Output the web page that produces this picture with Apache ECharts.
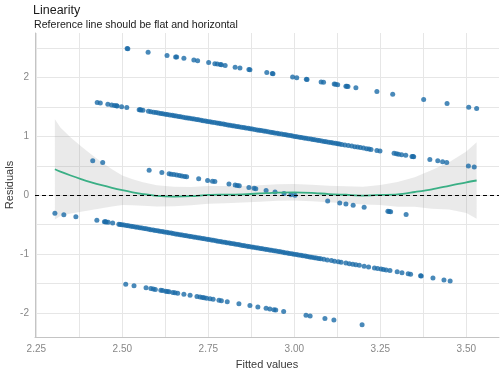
<!DOCTYPE html>
<html>
<head>
<meta charset="utf-8">
<script src="https://cdn.jsdelivr.net/npm/echarts@6/dist/echarts.min.js"></script>
<style>
html,body{margin:0;padding:0;background:#fff;}
#chart{width:504px;height:374px;}
</style>
</head>
<body>
<div id="chart"></div>
<script>
// ---- Data ----
const titleText = 'Linearity';
const subtitleText = 'Reference line should be flat and horizontal';
const xAxisTitle = 'Fitted values';
const yAxisTitle = 'Residuals';

const xTickValues = [2.25, 2.50, 2.75, 3.00, 3.25, 3.50];
const xGridValues = [2.25, 2.375, 2.50, 2.625, 2.75, 2.875, 3.00, 3.125, 3.25, 3.375, 3.50];
const yTickValues = [-2, -1, 0, 1, 2];
const yGridValues = [-2, -1.5, -1, -0.5, 0, 0.5, 1, 1.5, 2, 2.5];

// residual points [fitted, residual], one array per band
const band1 = [[2.514,2.486],[2.516,2.484],[2.575,2.425],[2.630,2.370],[2.655,2.345],[2.658,2.342],[2.679,2.321],[2.708,2.292],[2.719,2.281],[2.751,2.249],[2.769,2.231],[2.776,2.224],[2.785,2.215],[2.788,2.212],[2.799,2.201],[2.828,2.172],[2.842,2.158],[2.868,2.132],[2.871,2.129],[2.920,2.080],[2.936,2.064],[2.938,2.062],[2.995,2.005],[3.007,1.993],[3.035,1.965],[3.037,1.963],[3.078,1.922],[3.085,1.915],[3.116,1.884],[3.120,1.880],[3.126,1.874],[3.150,1.850],[3.153,1.847],[3.156,1.844],[3.179,1.821],[3.240,1.760],[3.286,1.714],[3.376,1.624],[3.444,1.556],[3.507,1.493],[3.530,1.470]];

const band2 = [[2.427,1.573],[2.436,1.564],[2.458,1.542],[2.469,1.531],[2.477,1.523],[2.483,1.517],[2.485,1.515],[2.498,1.502],[2.513,1.487],[2.549,1.451],[2.552,1.448],[2.554,1.446],[2.560,1.440],[2.576,1.424],[2.583,1.417],[2.591,1.409],[2.598,1.402],[2.605,1.395],
[2.612,1.388],[2.618,1.382],[2.625,1.375],[2.631,1.369],[2.638,1.362],[2.645,1.355],[2.651,1.349],[2.657,1.343],[2.664,1.336],[2.670,1.330],[2.677,1.323],[2.684,1.316],[2.690,1.310],[2.696,1.304],[2.703,1.297],[2.709,1.291],[2.716,1.284],[2.722,1.278],[2.729,1.271],[2.735,1.265],[2.742,1.258],[2.748,1.252],[2.755,1.245],[2.761,1.239],[2.768,1.232],[2.775,1.225],[2.781,1.219],[2.787,1.213],[2.794,1.206],[2.800,1.200],[2.807,1.193],[2.813,1.187],[2.820,1.180],[2.826,1.174],[2.833,1.167],[2.839,1.161],[2.846,1.154],[2.853,1.147],[2.859,1.141],[2.866,1.134],[2.872,1.128],[2.878,1.122],[2.885,1.115],[2.892,1.108],[2.898,1.102],[2.904,1.096],[2.911,1.089],[2.917,1.083],[2.924,1.076],[2.931,1.069],[2.937,1.063],[2.943,1.057],[2.950,1.050],[2.956,1.044],[2.963,1.037],[2.970,1.030],[2.976,1.024],[2.982,1.018],[2.989,1.011],[2.995,1.005],[3.002,0.998],[3.008,0.992],[3.015,0.985],[3.021,0.979],[3.028,0.972],[3.034,0.966],[3.041,0.959],[3.048,0.952],[3.054,0.946],[3.060,0.940],[3.067,0.933],[3.073,0.927],[3.080,0.920],[3.087,0.913],[3.093,0.907],[3.100,0.900],[3.107,0.893],[3.113,0.887],[3.120,0.880],[3.126,0.874],[3.131,0.869],
[3.138,0.862],[3.147,0.853],[3.157,0.843],[3.167,0.833],[3.176,0.824],[3.184,0.816],[3.192,0.808],[3.201,0.799],[3.210,0.790],[3.217,0.783],[3.223,0.777],[3.240,0.760],[3.249,0.751],[3.290,0.710],[3.297,0.703],[3.303,0.697],[3.312,0.688],[3.324,0.676],[3.342,0.658],[3.345,0.655],[3.347,0.653],[3.394,0.606],[3.417,0.583],[3.431,0.569],[3.443,0.557],[3.506,0.494],[3.523,0.477]];

const band3 = [[2.414,0.586],[2.443,0.557],[2.578,0.422],[2.615,0.385],[2.636,0.364],[2.642,0.358],[2.650,0.350],[2.658,0.342],[2.666,0.334],[2.673,0.327],[2.681,0.319],[2.687,0.313],[2.722,0.278],[2.748,0.252],[2.762,0.238],[2.769,0.231],[2.810,0.190],[2.828,0.172],[2.834,0.166],[2.840,0.160],[2.868,0.132],[2.883,0.117],[2.888,0.112],[2.918,0.082],[2.944,0.056],[2.970,0.030],[2.990,0.010],[3.002,-0.002],[3.097,-0.097],[3.132,-0.132],[3.150,-0.150],[3.171,-0.171],[3.203,-0.203],[3.272,-0.272],[3.276,-0.276],[3.280,-0.280],[3.325,-0.325]];

const band4 = [[2.304,-0.304],[2.330,-0.330],[2.365,-0.365],[2.426,-0.426],[2.448,-0.448],[2.451,-0.451],[2.453,-0.453],[2.459,-0.459],[2.472,-0.472],
[2.490,-0.490],[2.494,-0.494],[2.499,-0.499],[2.505,-0.505],[2.512,-0.512],[2.518,-0.518],[2.525,-0.525],[2.531,-0.531],[2.538,-0.538],[2.544,-0.544],[2.551,-0.551],[2.557,-0.557],[2.564,-0.564],[2.570,-0.570],[2.577,-0.577],[2.583,-0.583],[2.590,-0.590],[2.596,-0.596],[2.603,-0.603],[2.609,-0.609],[2.616,-0.616],[2.622,-0.622],[2.629,-0.629],[2.635,-0.635],[2.642,-0.642],[2.648,-0.648],[2.655,-0.655],[2.661,-0.661],[2.668,-0.668],[2.674,-0.674],[2.681,-0.681],[2.687,-0.687],[2.694,-0.694],[2.700,-0.700],[2.707,-0.707],[2.713,-0.713],[2.720,-0.720],[2.726,-0.726],[2.733,-0.733],[2.739,-0.739],[2.746,-0.746],[2.752,-0.752],[2.759,-0.759],[2.765,-0.765],[2.772,-0.772],[2.778,-0.778],[2.785,-0.785],[2.791,-0.791],[2.798,-0.798],[2.804,-0.804],[2.811,-0.811],[2.817,-0.817],[2.824,-0.824],[2.830,-0.830],[2.837,-0.837],[2.843,-0.843],[2.850,-0.850],[2.856,-0.856],[2.863,-0.863],[2.869,-0.869],[2.876,-0.876],[2.882,-0.882],[2.889,-0.889],[2.895,-0.895],[2.902,-0.902],[2.908,-0.908],[2.915,-0.915],[2.921,-0.921],[2.928,-0.928],[2.934,-0.934],[2.941,-0.941],[2.947,-0.947],[2.954,-0.954],[2.960,-0.960],[2.967,-0.967],[2.973,-0.973],[2.980,-0.980],[2.986,-0.986],[2.993,-0.993],[2.999,-0.999],[3.006,-1.006],[3.012,-1.012],[3.019,-1.019],[3.025,-1.025],[3.032,-1.032],[3.038,-1.038],[3.045,-1.045],[3.051,-1.051],[3.058,-1.058],[3.064,-1.064],[3.071,-1.071],[3.077,-1.077],[3.086,-1.086],
[3.096,-1.096],[3.108,-1.108],[3.117,-1.117],[3.128,-1.128],[3.136,-1.136],[3.150,-1.150],[3.160,-1.160],[3.170,-1.170],[3.179,-1.179],[3.189,-1.189],[3.203,-1.203],[3.216,-1.216],[3.233,-1.233],[3.242,-1.242],[3.252,-1.252],[3.259,-1.259],[3.267,-1.267],[3.278,-1.278],[3.299,-1.299],[3.313,-1.313],[3.331,-1.331],[3.338,-1.338],[3.367,-1.367],[3.369,-1.369],[3.403,-1.403],[3.435,-1.435],[3.453,-1.453]];

const band5 = [[2.510,-1.510],[2.534,-1.534],[2.569,-1.569],[2.583,-1.583],[2.590,-1.590],[2.596,-1.596],[2.612,-1.612],[2.617,-1.617],[2.626,-1.626],[2.631,-1.631],[2.636,-1.636],[2.647,-1.647],[2.653,-1.653],[2.661,-1.661],[2.679,-1.679],[2.697,-1.697],[2.717,-1.717],[2.726,-1.726],[2.733,-1.733],[2.738,-1.738],[2.745,-1.745],[2.755,-1.755],[2.764,-1.764],[2.781,-1.781],[2.788,-1.788],[2.805,-1.805],[2.839,-1.839],[2.871,-1.871],[2.894,-1.894],[2.918,-1.918],[2.929,-1.929],[2.941,-1.941],[2.946,-1.946],[2.969,-1.969],[3.034,-2.034],[3.046,-2.046],[3.089,-2.089],[3.115,-2.115],[3.197,-2.197]];

// loess smooth and its confidence band
const smoothX     = [2.304, 2.32, 2.35, 2.38, 2.41, 2.44, 2.47, 2.50, 2.53, 2.56, 2.60, 2.65, 2.70, 2.75, 2.80, 2.85, 2.90, 2.95, 3.00, 3.05, 3.10, 3.15, 3.20, 3.25, 3.30, 3.35, 3.40, 3.45, 3.50, 3.53];
const smoothY     = [0.44, 0.40, 0.335, 0.275, 0.22, 0.17, 0.125, 0.085, 0.05, 0.02, -0.01, -0.022, -0.015, 0.005, 0.01, 0.015, 0.03, 0.045, 0.05, 0.04, 0.02, 0.008, -0.005, 0.005, 0.015, 0.055, 0.10, 0.16, 0.22, 0.25];
const smoothUpper = [1.29, 1.15, 0.98, 0.83, 0.69, 0.56, 0.44, 0.335, 0.27, 0.22, 0.17, 0.143, 0.14, 0.155, 0.155, 0.155, 0.17, 0.185, 0.19, 0.18, 0.16, 0.153, 0.145, 0.175, 0.225, 0.305, 0.43, 0.56, 0.74, 0.90];
const smoothLower = [-0.41, -0.35, -0.31, -0.28, -0.25, -0.22, -0.19, -0.165, -0.17, -0.18, -0.19, -0.187, -0.17, -0.145, -0.135, -0.125, -0.11, -0.095, -0.09, -0.10, -0.12, -0.137, -0.155, -0.165, -0.195, -0.195, -0.23, -0.24, -0.30, -0.40];

// ---- Chart ----
const FONT = '"Liberation Sans", Arial, sans-serif';
const chart = echarts.init(document.getElementById('chart'), null, {renderer: 'canvas'});
const pointStyle = {color: '#1b6ca8', opacity: 0.8};
const pointSeries = [band1, band2, band3, band4, band5].map(d => ({
  type: 'scatter', data: d, symbolSize: 5, itemStyle: pointStyle, z: 3, silent: true
}));

const option = {
  animation: false,
  backgroundColor: '#fff',
  textStyle: {fontFamily: FONT},
  title: [
    {text: titleText, left: 33, top: 4, padding: 0,
     textStyle: {fontFamily: FONT, fontSize: 12.5, fontWeight: 'normal', color: '#1a1a1a'}},
    {text: subtitleText, left: 34, top: 19.5, padding: 0,
     textStyle: {fontFamily: FONT, fontSize: 10.6, fontWeight: 'normal', color: '#1a1a1a'}}
  ],
  graphic: [{
    type: 'text', x: 10, y: 185, rotation: Math.PI / 2, silent: true,
    style: {text: yAxisTitle, fill: '#3a3a3a', font: '11px ' + FONT, align: 'center', verticalAlign: 'middle'}
  }],
  grid: {left: 35, right: 5, top: 33, bottom: 37, containLabel: false, outerBoundsMode: 'none'},
  xAxis: {
    type: 'value', min: 2.2462, max: 3.595,
    name: xAxisTitle, nameLocation: 'middle', nameGap: 22,
    nameTextStyle: {fontFamily: FONT, fontSize: 11, color: '#3a3a3a'},
    axisLine: {show: true, onZero: false, lineStyle: {color: '#c4c4c4', width: 1}},
    axisTick: {show: false, customValues: xGridValues},
    axisLabel: {customValues: xTickValues, formatter: v => v.toFixed(2), color: '#878787', fontSize: 10, margin: 7, fontFamily: FONT},
    splitLine: {show: true, lineStyle: {color: '#e6e6e6', width: 1}}
  },
  yAxis: {
    type: 'value', min: -2.4034, max: 2.7508,
    axisLine: {show: true, onZero: false, lineStyle: {color: '#c4c4c4', width: 1}},
    axisTick: {show: false, customValues: yGridValues},
    axisLabel: {customValues: yTickValues, formatter: v => String(v), color: '#878787', fontSize: 10, margin: 6, fontFamily: FONT},
    splitLine: {show: true, lineStyle: {color: '#e6e6e6', width: 1}}
  },
  series: [
    {
      type: 'custom', silent: true, z: 1,
      data: smoothX.map((x, i) => [x, smoothUpper[i], smoothLower[i]]),
      encode: {x: 0, y: [1, 2]},
      renderItem: function (params, api) {
        if (params.dataIndex !== 0) return null;
        const pts = [];
        for (let i = 0; i < smoothX.length; i++) pts.push(api.coord([smoothX[i], smoothUpper[i]]));
        for (let i = smoothX.length - 1; i >= 0; i--) pts.push(api.coord([smoothX[i], smoothLower[i]]));
        return {type: 'polygon', shape: {points: pts}, style: {fill: 'rgba(150,150,150,0.2)'}};
      }
    },
    ...pointSeries,
    {
      type: 'line', data: smoothX.map((x, i) => [x, smoothY[i]]), showSymbol: false, smooth: 0.3,
      lineStyle: {color: '#3aaf85', width: 1.8}, z: 4, silent: true
    },
    {
      type: 'line', data: [], z: 5, silent: true,
      markLine: {
        silent: true, symbol: ['none', 'none'], label: {show: false},
        lineStyle: {color: '#000', width: 1.1, type: [4, 3]},
        data: [{yAxis: 0}]
      }
    }
  ]
};
chart.setOption(option);
</script>
</body>
</html>
